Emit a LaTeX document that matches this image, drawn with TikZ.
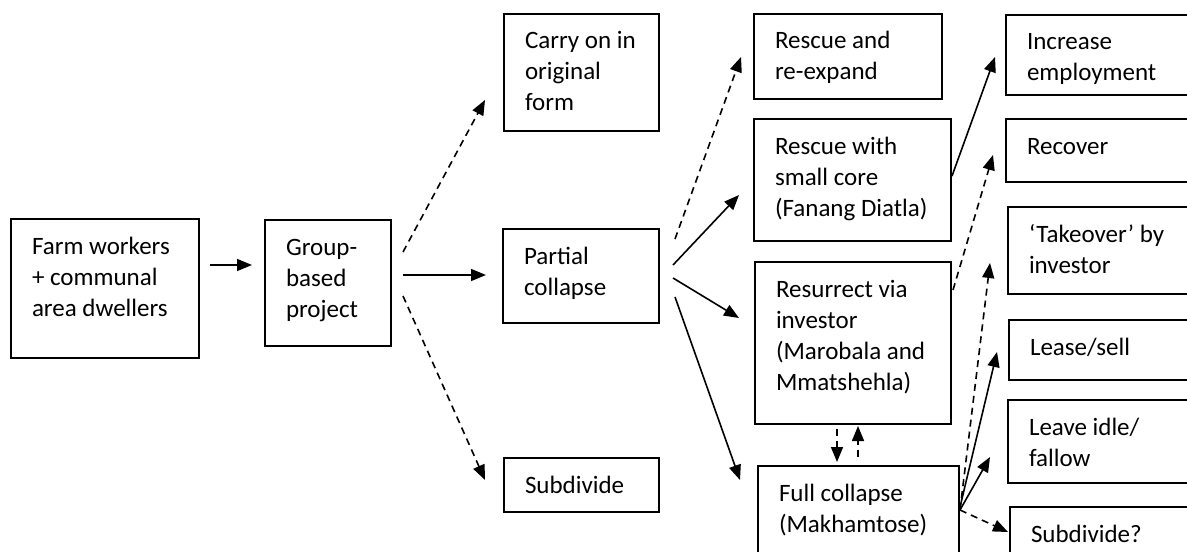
\documentclass[tikz,border=0pt]{standalone}
\usepackage{fontspec}
\setmainfont{Carlito}
\usetikzlibrary{arrows.meta,calc}
\newdimen\pxu \pxu=0.5pt
\newcommand\stagebox[3]{\parbox[c][#2\pxu][t]{#1\pxu}{\raggedright\leftskip=21\pxu\rule{0pt}{35\pxu}#3}}
\begin{document}
\begin{tikzpicture}[x=0.5pt,y=-0.5pt,
    stage/.style={draw,line width=1pt,anchor=north west,inner sep=0pt,font=\fontsize{12.5}{15.5}\selectfont},
    flow/.style={line width=0.8pt,-{Stealth[length=7.5pt,width=6pt,inset=0pt]}},
    maybe/.style={flow,dash pattern=on 3.5pt off 2.5pt}]
  \useasboundingbox (0,0) rectangle (1187,551);
  \clip (0,0) rectangle (1187,551);
  \node[stage] (farm) at (10,218) {\stagebox{188}{139}{Farm workers\\+ communal\\area dwellers}};
  \node[stage] (group) at (264,219) {\stagebox{126}{126}{Group-\\based\\project}};
  \node[stage] (carry) at (503,13) {\stagebox{155}{117}{Carry on in\\original\\form}};
  \node[stage] (partial) at (502,228) {\stagebox{156}{94}{Partial\\collapse}};
  \node[stage] (subdiv) at (503,457) {\stagebox{155}{54}{Subdivide}};
  \node[stage] (rescue) at (753,13) {\stagebox{188}{85}{Rescue and\\re-expand}};
  \node[stage] (core) at (753,118) {\stagebox{197}{122}{Rescue with\\small core\\(Fanang Diatla)}};
  \node[stage] (resurrect) at (754,261) {\stagebox{196}{162}{Resurrect via\\investor\\(Marobala and\\Mmatshehla)}};
  \node[stage] (full) at (757,465) {\stagebox{201}{120}{Full collapse\\(Makhamtose)}};
  \node[stage] (employ) at (1005,14) {\stagebox{250}{80}{Increase\\employment}};
  \node[stage] (recover) at (1005,118) {\stagebox{250}{63}{Recover}};
  \node[stage] (takeover) at (1007,206) {\stagebox{250}{87}{‘Takeover’ by\\investor}};
  \node[stage] (lease) at (1008,319) {\stagebox{250}{60}{Lease/sell}};
  \node[stage] (idle) at (1007,399) {\stagebox{250}{83}{Leave idle/\\fallow}};
  \node[stage] (subdivq) at (1009,506) {\stagebox{250}{100}{Subdivide?}};
  \draw[flow] ($(farm.north east)+(10,47)$) -- ($(group.north west)+(-12,46)$);
  \draw[maybe] ($(group.north east)+(11,33)$) -- ($(carry.north west)+(-18,87)$);
  \draw[flow] ($(group.north east)+(11,56)$) -- ($(partial.north west)+(-16,47)$);
  \draw[maybe] ($(group.north east)+(11,77)$) -- ($(subdiv.north west)+(-18,23)$);
  \draw[maybe] ($(partial.north east)+(15,11)$) -- ($(rescue.north west)+(-12,44)$);
  \draw[flow] ($(partial.north east)+(13,37)$) -- ($(core.north west)+(-14,77)$);
  \draw[flow] ($(partial.north east)+(13,50)$) -- ($(resurrect.north west)+(-15,57)$);
  \draw[flow] ($(partial.north east)+(15,69)$) -- ($(full.north west)+(-17,15)$);
  \draw[flow] ($(core.north east)+(0,58)$) -- ($(employ.north west)+(-10,43)$);
  \draw[maybe] ($(resurrect.north east)+(1,29)$) -- ($(recover.north west)+(-12,37)$);
  \draw[maybe] ($(full.north east)+(0,45)$) -- ($(takeover.north west)+(-17,57)$);
  \draw[flow] ($(full.north east)+(0,42)$) -- ($(lease.north west)+(-11,33)$);
  \draw[flow] ($(full.north east)+(0,45)$) -- ($(idle.north west)+(-17,58)$);
  \draw[maybe] ($(full.north east)+(0,45)$) -- ($(subdivq.north west)+(-1,26)$);
  \draw[maybe] ($(resurrect.south west)+(83,4)$) -- ($(full.north west)+(80,-3)$);
  \draw[maybe] ($(full.north west)+(101,-8)$) -- ($(resurrect.south west)+(104,1)$);
\end{tikzpicture}
\end{document}
